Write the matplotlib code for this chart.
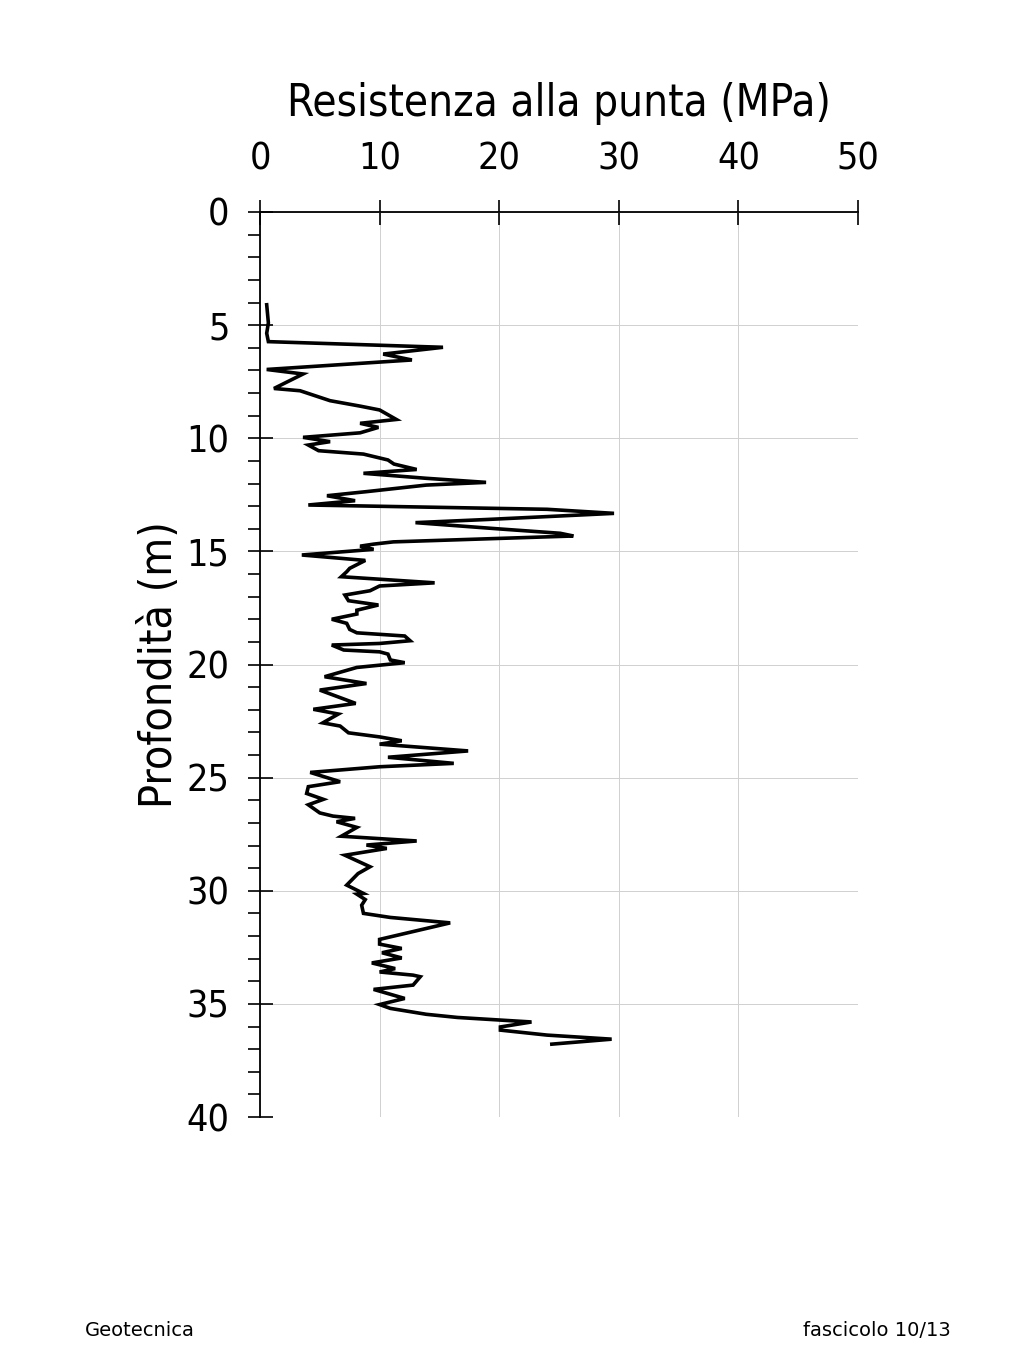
import matplotlib
matplotlib.use("Agg")
import matplotlib.pyplot as plt
from matplotlib.ticker import MultipleLocator

resistance = [0.56, 0.7, 0.56, 0.7, 15.3, 10.3, 12.7, 0.56, 3.6, 1.17, 3.35, 5.86, 8.37, 10.0,
              11.4, 8.37, 9.9, 8.37, 3.6, 5.86, 4.04, 4.9, 8.65, 10.7, 11.2, 13.1, 8.65, 13.9,
              18.9, 13.9, 8.9, 5.6, 7.95, 4.04, 24.0, 29.6, 19.0, 13.0, 19.8, 25.1, 26.2, 11.15,
              9.5, 8.37, 9.5, 3.5, 8.8, 7.5, 7.25, 6.8, 14.6, 10.0, 9.2, 7.1, 7.4, 9.9, 8.1,
              8.1, 6.0, 7.25, 7.5, 8.1, 12.1, 12.55, 10.0, 6.0, 7.0, 10.0, 10.7, 10.9, 12.1,
              8.1, 5.4, 8.9, 5.0, 8.0, 4.46, 6.55, 5.25, 6.7, 7.4, 10.0, 11.85, 10.0, 17.4,
              10.7, 16.2, 10.0, 4.2, 6.7, 4.04, 3.9, 5.3, 4.04, 5.0, 6.1, 7.95, 6.4, 8.1, 6.8,
              13.1, 8.9, 10.6, 7.1, 9.2, 8.2, 7.25, 8.65, 8.1, 8.8, 8.5, 8.65, 10.9, 15.9,
              10.0, 10.0, 11.85, 10.2, 11.85, 9.35, 11.3, 10.0, 12.8, 13.4, 12.8, 9.5, 12.1,
              10.0, 10.9, 13.9, 16.5, 22.7, 20.1, 20.1, 24.0, 29.4, 24.4]
depth = [4.1, 4.9, 5.36, 5.73, 5.98, 6.28, 6.54, 6.96, 7.16, 7.8, 7.9, 8.34, 8.58, 8.75,
         9.17, 9.34, 9.52, 9.76, 9.96, 10.15, 10.3, 10.55, 10.7, 10.96, 11.14, 11.38, 11.55,
         11.77, 11.95, 12.07, 12.36, 12.54, 12.76, 12.95, 13.14, 13.32, 13.59, 13.73, 14.0,
         14.2, 14.32, 14.58, 14.68, 14.77, 14.91, 15.16, 15.4, 15.75, 15.9, 16.12, 16.39,
         16.53, 16.74, 16.93, 17.18, 17.37, 17.6, 17.77, 18.0, 18.18, 18.45, 18.6, 18.74,
         18.95, 19.07, 19.14, 19.36, 19.44, 19.54, 19.8, 19.92, 20.13, 20.54, 20.84, 21.13,
         21.72, 21.98, 22.19, 22.58, 22.72, 23.02, 23.2, 23.37, 23.52, 23.82, 24.1, 24.37,
         24.52, 24.77, 25.18, 25.4, 25.7, 25.96, 26.2, 26.56, 26.7, 26.8, 26.95, 27.2, 27.59,
         27.8, 27.98, 28.13, 28.43, 28.94, 29.24, 29.75, 30.12, 30.15, 30.39, 30.64, 31.0,
         31.18, 31.42, 32.15, 32.36, 32.55, 32.74, 32.97, 33.19, 33.44, 33.59, 33.73, 33.8,
         34.17, 34.36, 34.76, 35.03, 35.2, 35.46, 35.6, 35.8, 36.02, 36.16, 36.38, 36.56, 36.78]

x_ticks = [0, 10, 20, 30, 40, 50]
y_ticks = [0, 5, 10, 15, 20, 25, 30, 35, 40]
x_title = "Resistenza alla punta (MPa)"
y_title = "Profondità (m)"
footer_left = "Geotecnica"
footer_right = "fascicolo 10/13"

plt.rcParams['font.family'] = ['DejaVu Sans']
plt.rcParams['font.stretch'] = 'condensed'

fig = plt.figure(figsize=(10.24, 13.65), dpi=100)
ax = fig.add_axes([260/1024, 1 - 1117/1365, (858-260)/1024, (1117-212)/1365])

ax.plot(resistance, depth, color='black', lw=2.6, solid_joinstyle='miter')
ax.set_xlim(0, 50)
ax.set_ylim(40, 0)
ax.xaxis.set_ticks_position('top')
ax.xaxis.set_label_position('top')
ax.set_xticks(x_ticks)
ax.set_yticks(y_ticks)
ax.yaxis.set_minor_locator(MultipleLocator(1))
ax.tick_params(axis='x', which='major', direction='inout', length=18, width=1.2,
               labelsize=27, pad=16, colors='black')
ax.tick_params(axis='y', which='major', direction='inout', length=18, width=1.2,
               labelsize=27, pad=13)
ax.tick_params(axis='y', which='minor', direction='out', length=9, width=1.2)
ax.grid(True, which='major', color='#d0d0d0', lw=0.7)
for s in ['right', 'bottom']:
    ax.spines[s].set_visible(False)
for s in ['top', 'left']:
    ax.spines[s].set_linewidth(1.3)
ax.set_xlabel(x_title, fontsize=31.5, labelpad=18)
ax.set_ylabel(y_title, fontsize=32, labelpad=4)

fig.text(85/1024, 1 - 1330/1365, footer_left, fontsize=14, va='center', ha='left',
         fontstretch='normal')
fig.text(951/1024, 1 - 1330/1365, footer_right, fontsize=14, va='center', ha='right',
         fontstretch='normal')

fig.savefig("out.png", dpi=100)
